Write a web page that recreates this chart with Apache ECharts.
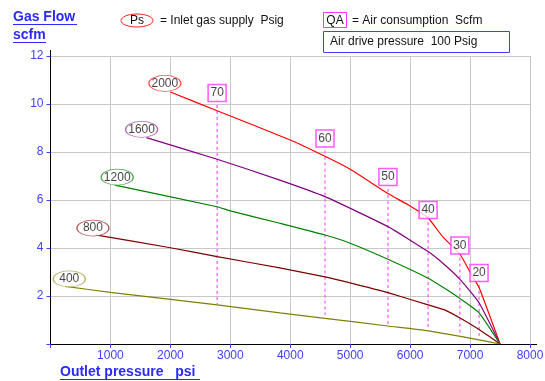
<!DOCTYPE html>
<html><head><meta charset="utf-8">
<script src="https://cdn.jsdelivr.net/npm/echarts@6/dist/echarts.min.js"></script>
<style>html,body{margin:0;padding:0;background:#fff}#c{width:545px;height:381px}</style>
</head><body><div id="c"></div>
<script>
// ---- data ----
const xTicks = [0,1000,2000,3000,4000,5000,6000,7000,8000];
const yTicks = [0,2,4,6,8,10,12];
const psLabels = ['2000','1600','1200','800','400'];
const psColors = ['#ff0000','#800080','#008000','#800000','#808000'];
const psBorder = ['#ff2020','#a040a0','#209020','#a03030','#a0a040'];
const curve2000 = [[2000,10.5],[2780,9.72],[4000,8.5],[4580,7.82],[5000,7.28],[5630,6.27],[6000,5.75],[6300,5.25],[6550,4.45],[6830,3.75],[7020,2.9],[7150,2.35],[7500,0]];
const curve1600 = [[1600,8.6],[2780,7.7],[3825,6.83],[4580,6.14],[5630,4.89],[6300,3.85],[6575,3.3],[6840,2.67],[7150,1.72],[7500,0]];
const curve1200 = [[1075,6.62],[2780,5.72],[3000,5.55],[3825,5.03],[4580,4.54],[5000,4.2],[5630,3.53],[6300,2.74],[6575,2.32],[6840,1.88],[7150,1.3],[7500,0]];
const curve800 = [[750,4.55],[2000,4.01],[2780,3.64],[3825,3.17],[4580,2.8],[5000,2.55],[5630,2.14],[6300,1.63],[6575,1.42],[6840,1.07],[7150,0.6],[7500,0]];
const curve400 = [[250,2.4],[1000,2.15],[2000,1.86],[2780,1.63],[3825,1.3],[4580,1.07],[5630,0.75],[6300,0.55],[6840,0.32],[7150,0.17],[7500,0]];
const psLabelP = [1908,1520,1113,708,313];
const psLabelQ = [10.86,8.94,6.95,4.83,2.71];
const airLabels = ['70','60','50','40','30','20'];
const airP = [2780,4580,5630,6300,6830,7150];
const airTopQ = [10.46,8.56,6.96,5.58,4.1,2.96];
const airBottomQ = [1.67,1.21,0.83,0.58,0.46,0.29];
// ---- chart ----
const FONT = 'Liberation Sans, Arial, sans-serif';
const BLUE = '#4040ff';
const curves = [curve2000,curve1600,curve1200,curve800,curve400];
const series = [];
curves.forEach((d,i)=>{
  series.push({type:'line', data:d, symbol:'none', smooth:0.15, z:3,
    lineStyle:{color:psColors[i], width:1.2}, silent:true});
});
airP.forEach((p,i)=>{
  series.push({type:'line', data:[[p,airTopQ[i]],[p,airBottomQ[i]]], symbol:'none', z:2,
    lineStyle:{color:'#ff33ff', width:1, type:[3,3]}, silent:true});
});
series.push({type:'scatter', z:5, symbol:'circle', symbolSize:[32,16],
  data: psLabels.map((l,i)=>({value:[psLabelP[i],psLabelQ[i]], name:l,
    itemStyle:{color:'#fff', borderColor:psBorder[i], borderWidth:1}})),
  label:{show:true, position:'inside', formatter:p=>p.name, color:'#111', fontSize:12, fontFamily:FONT}
});
series.push({type:'scatter', z:6, symbol:'rect', symbolSize:[18,17],
  data: airLabels.map((l,i)=>({value:[airP[i],airTopQ[i]], name:l})),
  itemStyle:{color:'#fff', borderColor:'#ff33ff', borderWidth:1.5},
  label:{show:true, position:'inside', formatter:p=>p.name, color:'#111', fontSize:12, fontFamily:FONT}
});
const chart = echarts.init(document.getElementById('c'), null, {renderer:'canvas'});
chart.setOption({
  animation:false,
  backgroundColor:'#fff',
  grid:{left:50.5, right:15, top:56, bottom:37, outerBoundsMode:'none'},
  xAxis:{type:'value', min:xTicks[0], max:xTicks[xTicks.length-1], interval:1000,
    axisLine:{show:true, onZero:false, lineStyle:{color:'#000', width:1}},
    axisTick:{show:true, length:4, lineStyle:{color:BLUE}},
    axisLabel:{color:BLUE, fontSize:12, fontFamily:FONT, margin:6, formatter:v=>v===0?'':String(v)},
    splitLine:{show:true, lineStyle:{color:'#c8c8c8', width:1}}},
  yAxis:{type:'value', min:yTicks[0], max:yTicks[yTicks.length-1], interval:2,
    axisLine:{show:true, onZero:false, lineStyle:{color:'#000', width:1}},
    axisTick:{show:true, length:4, lineStyle:{color:BLUE}},
    axisLabel:{color:BLUE, fontSize:12, fontFamily:FONT, margin:7, formatter:v=>v===0?'':String(v)},
    splitLine:{show:true, lineStyle:{color:'#c8c8c8', width:1}}},
  series: series,
  graphic:[
    {type:'line', shape:{x1:50.5,y1:50,x2:50.5,y2:56}, style:{stroke:'#000', lineWidth:1}},
    {type:'line', shape:{x1:530,y1:344.5,x2:537,y2:344.5}, style:{stroke:'#000', lineWidth:1}},
    {type:'text', x:13, y:17.5, style:{text:'Gas Flow', fill:'#2a2aff', font:'bold 14px '+FONT, verticalAlign:'middle'}},
    {type:'line', shape:{x1:13,y1:24.5,x2:77,y2:24.5}, style:{stroke:'#2a2aff', lineWidth:1}},
    {type:'text', x:13, y:35.5, style:{text:'scfm', fill:'#2a2aff', font:'bold 14px '+FONT, verticalAlign:'middle'}},
    {type:'line', shape:{x1:13,y1:42.5,x2:46,y2:42.5}, style:{stroke:'#2a2aff', lineWidth:1}},
    {type:'text', x:60, y:372.5, style:{text:'Outlet pressure   psi', fill:'#2a2aff', font:'bold 14px '+FONT, verticalAlign:'middle'}},
    {type:'line', shape:{x1:60,y1:379.5,x2:200,y2:379.5}, style:{stroke:'#2a2aff', lineWidth:1}},
    {type:'ellipse', shape:{cx:137, cy:20.5, rx:16, ry:6.5}, style:{fill:'#fff', stroke:'#ff2020', lineWidth:1}},
    {type:'text', x:137, y:21, style:{text:'Ps', fill:'#111', font:'12px '+FONT, align:'center', verticalAlign:'middle'}},
    {type:'text', x:160, y:20.5, style:{text:'= Inlet gas supply  Psig', fill:'#111', font:'12px '+FONT, verticalAlign:'middle'}},
    {type:'rect', shape:{x:323.5, y:12.5, width:23, height:15}, style:{fill:'#fff', stroke:'#ff33ff', lineWidth:1}},
    {type:'text', x:335, y:20.5, style:{text:'QA', fill:'#111', font:'12px '+FONT, align:'center', verticalAlign:'middle'}},
    {type:'text', x:352, y:20.5, style:{text:'= Air consumption  Scfm', fill:'#111', font:'12px '+FONT, verticalAlign:'middle'}},
    {type:'rect', shape:{x:323.5, y:31.5, width:186, height:21}, style:{fill:'#fff', stroke:'#4040ff', lineWidth:1}},
    {type:'text', x:330, y:42, style:{text:'Air drive pressure  100 Psig', fill:'#111', font:'12px '+FONT, verticalAlign:'middle'}}
  ]
});
</script></body></html>
